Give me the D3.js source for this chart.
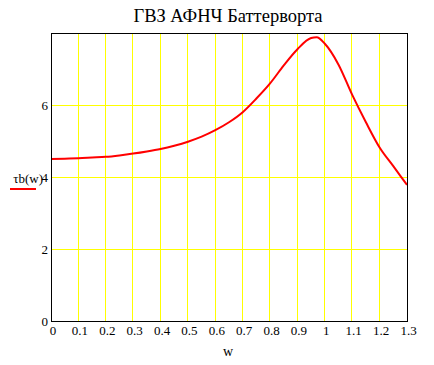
<!DOCTYPE html>
<html>
<head>
<meta charset="utf-8">
<script src="https://cdn.jsdelivr.net/npm/d3@7"></script>
<style>
  body { margin: 0; background: #fff; }
  svg text { font-family: "Liberation Serif", "Times New Roman", serif; fill: #000; }
</style>
</head>
<body>
<div id="chart"></div>
<script>
// group delay values
const wValues = [0, 0.05, 0.1, 0.15, 0.2, 0.25, 0.3, 0.35, 0.4, 0.45, 0.5, 0.55, 0.6, 0.65, 0.7,
                 0.75, 0.8, 0.85, 0.9, 0.95, 0.97, 1.0, 1.05, 1.1, 1.15, 1.2, 1.25, 1.3];
const tauValues = [4.50, 4.51, 4.52, 4.54, 4.56, 4.60, 4.65, 4.71, 4.78, 4.87, 4.98, 5.12, 5.30, 5.52, 5.80,
                   6.18, 6.60, 7.10, 7.55, 7.86, 7.88, 7.70, 7.12, 6.28, 5.52, 4.82, 4.30, 3.78];

const xTicks = [0, 0.1, 0.2, 0.3, 0.4, 0.5, 0.6, 0.7, 0.8, 0.9, 1, 1.1, 1.2, 1.3];
const yTicks = [0, 2, 4, 6];
const titleText = "ГВЗ АФНЧ Баттерворта";
const xLabel = "w";
const seriesLabel = "τb(w)";

const width = 434, height = 365;
const area = { left: 51, right: 407, top: 33, bottom: 321 };
const serif = '"Liberation Serif", "Times New Roman", serif';

const x = d3.scaleLinear().domain([0, 1.3]).range([area.left, area.right]);
const y = d3.scaleLinear().domain([0, 8]).range([area.bottom, area.top]);

const svg = d3.select("#chart").append("svg")
    .attr("width", width)
    .attr("height", height);

// gridlines (yellow)
svg.append("g")
    .attr("transform", `translate(-0.8, ${area.bottom})`)
    .call(d3.axisBottom(x).tickValues(xTicks.slice(1, -1)).tickFormat("").tickSize(-(area.bottom - area.top)))
    .call(g => g.select(".domain").remove())
    .call(g => g.selectAll("line").attr("stroke", "#ffff00").attr("shape-rendering", "crispEdges"));

svg.append("g")
    .attr("transform", `translate(${area.left}, 0)`)
    .call(d3.axisLeft(y).tickValues(yTicks.slice(1)).tickFormat("").tickSize(-(area.right - area.left)))
    .call(g => g.select(".domain").remove())
    .call(g => g.selectAll("line").attr("stroke", "#ffff00").attr("shape-rendering", "crispEdges"));

// curve
const pts = wValues.map((w, i) => [w, tauValues[i]]);
const line = d3.line()
    .x(d => x(d[0]))
    .y(d => y(d[1]))
    .curve(d3.curveMonotoneX);

svg.append("path")
    .datum(pts)
    .attr("fill", "none")
    .attr("stroke", "#ff0000")
    .attr("stroke-width", 2)
    .attr("d", line);

// frame
svg.append("rect")
    .attr("x", area.left + 0.5)
    .attr("y", area.top + 0.5)
    .attr("width", area.right - area.left)
    .attr("height", area.bottom - area.top)
    .attr("fill", "none")
    .attr("stroke", "#000")
    .attr("shape-rendering", "crispEdges");

// tick labels
const xAxis = svg.append("g")
    .attr("transform", `translate(0, ${area.bottom})`)
    .call(d3.axisBottom(x).tickValues(xTicks).tickFormat(d3.format("")).tickSize(0).tickPadding(5));
xAxis.select(".domain").remove();
xAxis.selectAll("text")
    .style("font-family", serif)
    .style("font-size", "13px")
    .attr("dx", d => d === 0 ? 1.5 : 1);

const yAxis = svg.append("g")
    .attr("transform", `translate(${area.left}, 0)`)
    .call(d3.axisLeft(y).tickValues(yTicks).tickFormat(d3.format("")).tickSize(0).tickPadding(3));
yAxis.select(".domain").remove();
yAxis.selectAll("text")
    .style("font-family", serif)
    .style("font-size", "13px");

// title
svg.append("text")
    .attr("x", 228)
    .attr("y", 22)
    .attr("text-anchor", "middle")
    .style("font-family", serif)
    .style("font-size", "18.5px")
    .text(titleText);

// x label
svg.append("text")
    .attr("x", 228)
    .attr("y", 356)
    .attr("text-anchor", "middle")
    .style("font-family", serif)
    .style("font-size", "14px")
    .text(xLabel);

// series label + legend line
svg.append("text")
    .attr("x", 43)
    .attr("y", 183)
    .attr("text-anchor", "end")
    .style("font-family", serif)
    .style("font-size", "13px")
    .text(seriesLabel);

svg.append("line")
    .attr("x1", 10).attr("x2", 36)
    .attr("y1", 189).attr("y2", 189)
    .attr("stroke", "#ff0000")
    .attr("stroke-width", 2);
</script>
</body>
</html>
